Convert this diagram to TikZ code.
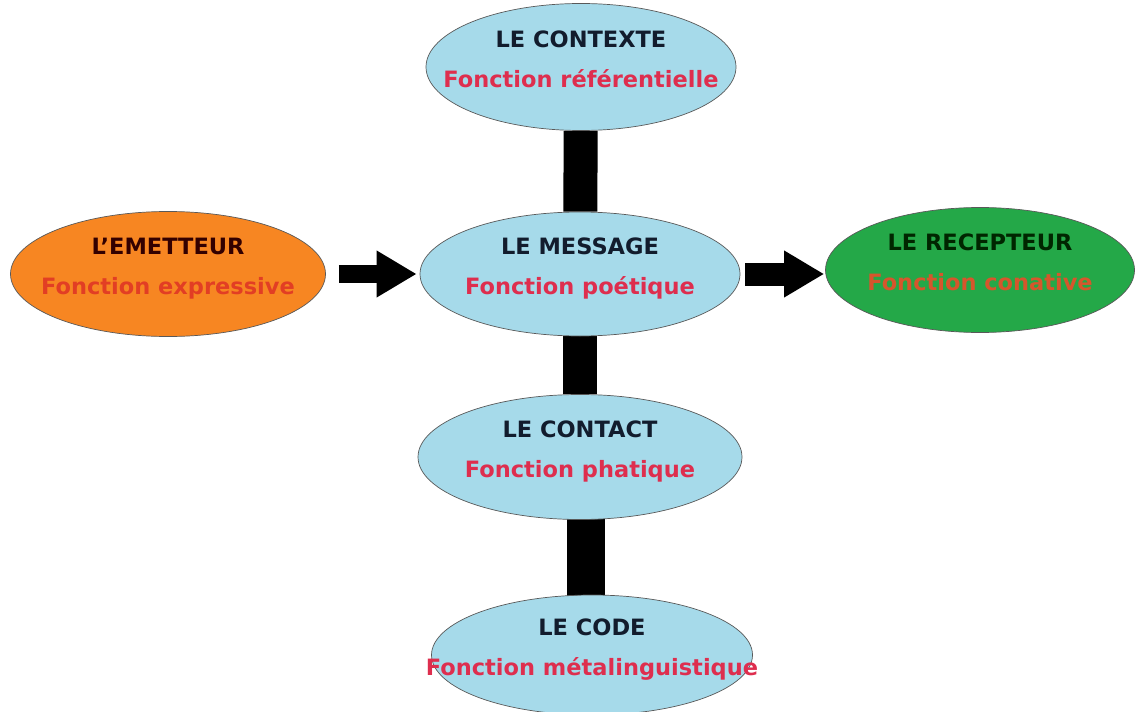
\documentclass[tikz,border=0pt]{standalone}
\usepackage{fontspec}
\setmainfont{DejaVu Sans}
\usetikzlibrary{arrows.meta, positioning, shapes.geometric, backgrounds}

\definecolor{bleuclair}{RGB}{166,218,234}
\definecolor{orangevif}{RGB}{247,134,34}
\definecolor{vertvif}{RGB}{36,168,72}
\definecolor{titre}{RGB}{18,28,45}
\definecolor{rougefn}{RGB}{222,46,78}
\definecolor{rougeorange}{RGB}{226,62,36}
\definecolor{orangefn}{RGB}{214,86,44}

\begin{document}
\begin{tikzpicture}[>=Latex, line join=round]

% --------- styles ----------
\tikzset{
  ovale/.style={ellipse, draw=black!65, thin, inner xsep=-1.4cm, inner ysep=0pt, align=center,
    text=titre, font=\bfseries\fontsize{12.8}{15}\selectfont},
  barre/.style={line width=0.68cm, black},
  fleche/.style={-{Triangle[width=0.88cm,length=0.8cm]}, line width=0.4cm, black}
}
\def\sep{8pt}      % interligne titre / fonction
\def\facteur#1#2#3{#1\\[\sep]\textcolor{#2}{#3}\\[-6pt]\mbox{}}

\useasboundingbox (0,0) rectangle (22.78,14.22);

% --------- les six facteurs ----------
\node[ovale, fill=bleuclair, minimum width=6.2cm, minimum height=2.54cm] (contexte) at (11.62,12.88)
  {\facteur{LE CONTEXTE}{rougefn}{Fonction référentielle}};
\node[ovale, fill=orangevif, text=black!80!red, minimum width=6.3cm, minimum height=2.5cm] (emetteur) at (3.36,8.74)
  {\facteur{L'EMETTEUR}{rougeorange}{Fonction expressive}};
\node[ovale, fill=bleuclair, minimum width=6.4cm, minimum height=2.48cm] (message) at (11.6,8.74)
  {\facteur{LE MESSAGE}{rougefn}{Fonction poétique}};
\node[ovale, fill=vertvif, text=black!85!green, minimum width=6.18cm, minimum height=2.5cm] (recepteur) at (19.6,8.82)
  {\facteur{LE RECEPTEUR}{orangefn}{Fonction conative}};
\node[ovale, fill=bleuclair, minimum width=6.48cm, minimum height=2.5cm] (contact) at (11.6,5.08)
  {\facteur{LE CONTACT}{rougefn}{Fonction phatique}};
\node[ovale, fill=bleuclair, minimum width=6.42cm, minimum height=2.4cm] (code) at (11.84,1.12)
  {\facteur{LE CODE}{rougefn}{Fonction métalinguistique}};

% --------- barres verticales (derrière les ovales) ----------
\begin{pgfonlayer}{background}
  \draw[barre] (contexte) -- (message);
  \draw[barre] (message) -- (contact);
  \path ([xshift=0.12cm]contact.center) coordinate (c1);
  \draw[barre, line width=0.76cm] (c1) -- (c1 |- code.center);
\end{pgfonlayer}

% --------- flèches ----------
\draw[fleche, line width=0.36cm, shorten <=0.26cm, shorten >=0.06cm] (emetteur.east) -- (message.west);
\draw[fleche, line width=0.46cm, shorten <=0.1cm, shorten >=0.02cm] (message.east) -- (message.east -| recepteur.west);

\end{tikzpicture}
\end{document}
